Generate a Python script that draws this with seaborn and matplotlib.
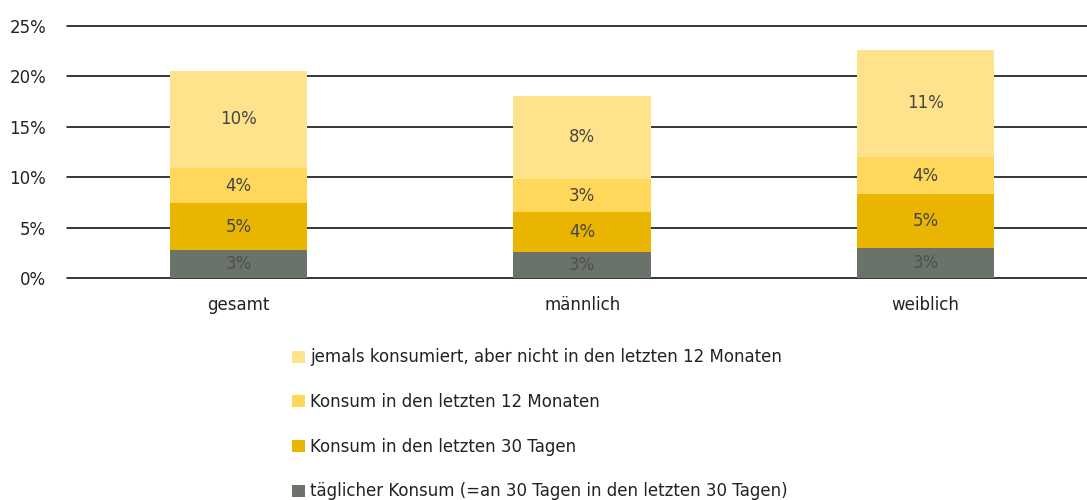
import numpy as np
import pandas as pd
import matplotlib
matplotlib.use("Agg")
import matplotlib.pyplot as plt
import seaborn as sns
from matplotlib.patches import Patch

# Daten (Anteile in %, von unten nach oben gestapelt)
kategorien = ["gesamt", "männlich", "weiblich"]
taeglich = [2.75, 2.6, 3.0]
tage30 = [4.65, 3.9, 5.3]
monate12 = [3.55, 3.3, 3.7]
jemals = [9.55, 8.3, 10.65]

serien = [
    "täglicher Konsum (=an 30 Tagen in den letzten 30 Tagen)",
    "Konsum in den letzten 30 Tagen",
    "Konsum in den letzten 12 Monaten",
    "jemals konsumiert, aber nicht in den letzten 12 Monaten",
]
farben = ["#6a7369", "#e9b500", "#ffd75a", "#ffe38c"]
y_ticks = [0, 5, 10, 15, 20, 25]

sns.set_style("white")
plt.rcParams["font.family"] = ["DejaVu Sans"]
text_farbe = "#454545"
fs = 12

werte = np.array([taeglich, tage30, monate12, jemals])
kumuliert = np.cumsum(werte, axis=0)

fig = plt.figure(figsize=(10.87, 5.0), dpi=100)
ax = fig.add_axes([67 / 1087, 1 - 278 / 500, 1 - 67 / 1087, (278 - 26) / 500])

# Gitterlinien
for t in y_ticks:
    ax.axhline(t, color="black", lw=1.1, zorder=0, clip_on=False)

# gestapelte Balken: kumulierte Summen, größte zuerst
for i in range(len(serien) - 1, -1, -1):
    df = pd.DataFrame({"kat": kategorien, "wert": kumuliert[i]})
    sns.barplot(data=df, x="kat", y="wert", color=farben[i], width=0.4,
                saturation=1, linewidth=0, ax=ax, zorder=2)

# Beschriftungen in der Mitte der Segmente
for i in range(len(serien)):
    for j in range(len(kategorien)):
        unten = kumuliert[i - 1][j] if i > 0 else 0
        mitte = unten + werte[i][j] / 2
        ax.text(j, mitte, f"{werte[i][j]:.0f}%", ha="center", va="center",
                fontsize=fs, color=text_farbe if i > 0 else "#4f4f4f", zorder=3)

ax.set_xlim(-0.5, 2.47)
ax.set_ylim(0, 25)
ax.set_yticks(y_ticks)
ax.set_yticklabels([f"{t}%" for t in y_ticks], fontsize=fs, color="#222222")
ax.tick_params(axis="y", length=0, pad=15)
ax.tick_params(axis="x", length=0, pad=13, labelsize=fs, colors="#222222")
ax.set_xlabel("")
ax.set_ylabel("")
sns.despine(ax=ax, left=True, bottom=True)

# Legende
handles = [Patch(facecolor=farben[i], edgecolor="none") for i in range(3, -1, -1)]
labels = [serien[i] for i in range(3, -1, -1)]
fig.legend(handles, labels, loc="upper left", bbox_to_anchor=(292 / 1087, 1 - 348.5 / 500),
           frameon=False, fontsize=fs, labelspacing=1.6, handlelength=0.78,
           handleheight=0.75, handletextpad=0.3, borderaxespad=0, borderpad=0,
           labelcolor="#222222")

fig.savefig("out.png", dpi=100)
